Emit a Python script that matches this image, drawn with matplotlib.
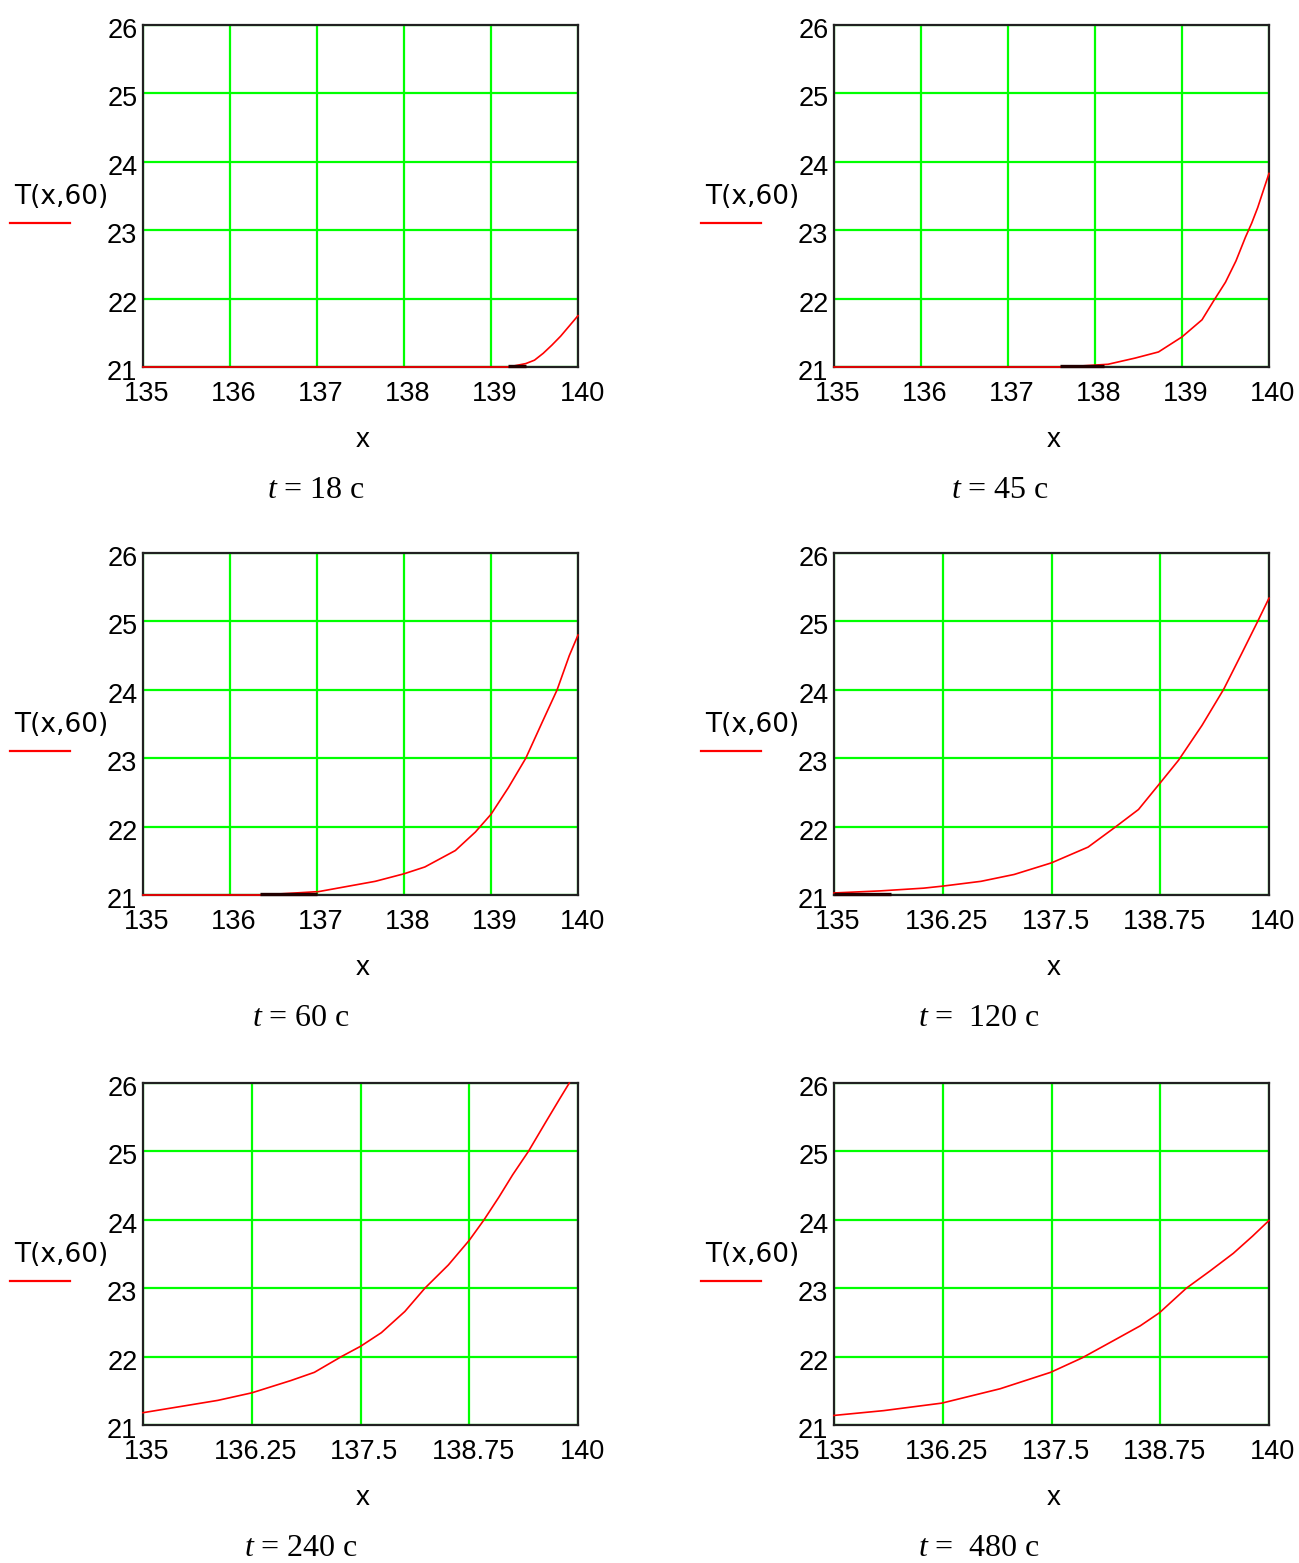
import numpy as np
import matplotlib
matplotlib.use("Agg")
import matplotlib.pyplot as plt
import matplotlib.transforms as mtransforms

plt.rcParams['font.family'] = ['Liberation Sans', 'DejaVu Sans']
plt.rcParams['mathtext.fontset'] = 'custom'
plt.rcParams['mathtext.it'] = 'Liberation Serif:italic'
plt.rcParams['mathtext.rm'] = 'Liberation Serif'

# --- data ---
captions = [r'$t$ = 18 c', r'$t$ = 45 c', r'$t$ = 60 c',
            r'$t$ =  120 c', r'$t$ = 240 c', r'$t$ =  480 c']

x_ticks_a = [135, 136, 137, 138, 139, 140]
x_ticks_b = [135, 136.25, 137.5, 138.75, 140]
y_ticks = [21, 22, 23, 24, 25, 26]

x_18 = [135, 139.2, 139.4, 139.5, 139.6, 139.7, 139.8, 139.9, 140]
T_18 = [21, 21, 21.05, 21.1, 21.2, 21.32, 21.45, 21.6, 21.75]

x_45 = [135, 137.65, 138.15, 138.46, 138.73, 139.0, 139.23, 139.37, 139.5,
        139.62, 139.73, 139.8, 139.87, 139.94, 140]
T_45 = [21, 21, 21.04, 21.13, 21.22, 21.44, 21.69, 21.98, 22.24,
        22.55, 22.9, 23.1, 23.33, 23.6, 23.83]

x_60 = [135, 136.36, 137.02, 137.28, 137.67, 138.0, 138.24, 138.59, 138.82,
        139.0, 139.2, 139.4, 139.59, 139.76, 139.9, 140]
T_60 = [21, 21, 21.05, 21.11, 21.2, 21.31, 21.41, 21.65, 21.92,
        22.18, 22.57, 23.0, 23.53, 24.0, 24.5, 24.8]

x_120 = [135, 135.53, 136.03, 136.25, 136.69, 137.07, 137.5, 137.92, 138.23,
         138.5, 138.75, 138.96, 139.23, 139.48, 139.69, 139.87, 140]
T_120 = [21.03, 21.06, 21.1, 21.13, 21.2, 21.3, 21.47, 21.7, 21.99,
         22.25, 22.64, 22.97, 23.48, 24.01, 24.54, 25.0, 25.34]

x_240 = [135, 135.43, 135.86, 136.25, 136.7, 136.97, 137.28, 137.5, 137.74,
         138.01, 138.24, 138.51, 138.75, 138.92, 139.09, 139.25, 139.43,
         139.63, 139.79, 139.9]
T_240 = [21.18, 21.27, 21.36, 21.47, 21.65, 21.77, 22.0, 22.15, 22.35,
         22.66, 23.0, 23.34, 23.7, 24.0, 24.33, 24.66, 25.0,
         25.43, 25.77, 26.0]

x_480 = [135, 135.57, 136.24, 136.91, 137.49, 137.85, 138.25, 138.52, 138.74,
         139.05, 139.32, 139.59, 139.81, 140]
T_480 = [21.14, 21.21, 21.32, 21.53, 21.77, 21.98, 22.26, 22.45, 22.64,
         23.0, 23.25, 23.51, 23.76, 23.99]

# dark stretch where the curve lies on the bottom axis
dark = [(139.2, 139.4), (137.6, 138.1), (136.35, 137.0), (135, 135.65), None, None]

series = [(x_18, T_18), (x_45, T_45), (x_60, T_60),
          (x_120, T_120), (x_240, T_240), (x_480, T_480)]
xticks_per = [x_ticks_a, x_ticks_a, x_ticks_a, x_ticks_b, x_ticks_b, x_ticks_b]

W, H = 1299, 1563
fig = plt.figure(figsize=(W / 100, H / 100), dpi=100)

col_left = [143, 834]
row_top = [25, 553, 1083]
ax_w, ax_h = 435, 342
cap_x = [[316, 1000], [301, 979], [301, 979]]
cap_y = [490, 1018, 1548]

for i, (xs, ts) in enumerate(series):
    r, c = i // 2, i % 2
    left = col_left[c]
    top = row_top[r]
    ax = fig.add_axes([left / W, 1 - (top + ax_h) / H, ax_w / W, ax_h / H])
    ax.set_xlim(135, 140)
    ax.set_ylim(21, 26)
    ax.set_xticks(xticks_per[i])
    ax.set_yticks(y_ticks)
    ax.set_xticklabels([f'{v:g}' for v in xticks_per[i]])
    ax.set_yticklabels([str(v) for v in y_ticks])
    ax.grid(True, color='#00ff00', linewidth=1.6)
    ax.set_axisbelow(True)
    ax.tick_params(length=0, labelsize=19.5, colors='black')
    ax.tick_params(axis='x', pad=10)
    ax.tick_params(axis='y', pad=4)
    off = mtransforms.ScaledTranslation(4 / 100, 0, fig.dpi_scale_trans)
    for lab in ax.get_xticklabels():
        lab.set_transform(lab.get_transform() + off)
    offy = mtransforms.ScaledTranslation(0, -3 / 100, fig.dpi_scale_trans)
    for lab in ax.get_yticklabels():
        lab.set_transform(lab.get_transform() + offy)
    for sp in ax.spines.values():
        sp.set_linewidth(1.6)
        sp.set_color('#202020')
        sp.set_zorder(2.5)

    ax.plot(xs, ts, color='#ff0000', linewidth=1.2, clip_on=False, zorder=3)
    if dark[i] is not None:
        ax.plot(dark[i], [21.01, 21.01], color='#200000', linewidth=2.4,
                clip_on=False, zorder=3.5, solid_capstyle='butt')

    ax.text(-0.1885, 0.497, 'T(x,60)', transform=ax.transAxes, fontsize=19,
            family='DejaVu Sans', ha='center', va='center')
    ax.plot([-0.306, -0.168], [0.421, 0.421], transform=ax.transAxes,
            color='#ff0000', linewidth=1.6, clip_on=False)
    ax.text(0.506, -73 / ax_h, 'x', transform=ax.transAxes, fontsize=20,
            ha='center', va='center')

    fig.text(cap_x[r][c] / W, 1 - cap_y[r] / H, captions[i], fontsize=23,
             family='Liberation Serif', ha='center', va='center')

fig.savefig('out.png', dpi=100)
